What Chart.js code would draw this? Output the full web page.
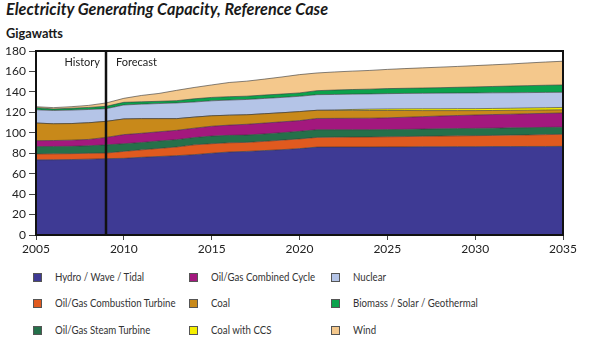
<!DOCTYPE html>
<html>
<head>
<meta charset="utf-8">
<script src="https://cdn.jsdelivr.net/npm/chart.js@4/dist/chart.umd.min.js"></script>
<style>
  body { margin: 0; background: #fff; width: 600px; height: 345px; position: relative; overflow: hidden; font-family: Lato, "Open Sans", sans-serif; }
  #title { position: absolute; left: 6px; top: -1px; font-size: 16.2px; font-weight: bold; font-style: italic; color: #1a1a1a; }
  #unit { position: absolute; left: 6px; top: 25px; font-size: 12.8px; font-weight: bold; color: #1a1a1a; }
  #wrap { position: absolute; left: 0; top: 40px; width: 600px; height: 225px; }
  .leg { position: absolute; width: 9px; height: 9px; border: 1px solid #555; box-sizing: border-box; }
  .legtxt { position: absolute; font-size: 11.5px; color: #333; white-space: nowrap; transform: scaleX(0.84); transform-origin: left center; }
</style>
</head>
<body>
<div id="title">Electricity Generating Capacity, Reference Case</div>
<div id="unit">Gigawatts</div>
<div id="wrap"><canvas id="capacityChart" width="600" height="225"></canvas></div>
<div id="legend"></div>
<script>
const years = [2005, 2006, 2007, 2008, 2009, 2010, 2011, 2012, 2013, 2014, 2015, 2016, 2017, 2018, 2019, 2020,
               2021, 2022, 2023, 2024, 2025, 2026, 2027, 2028, 2029, 2030, 2031, 2032, 2033, 2034, 2035];

const hydro = [73.5, 73.6, 73.8, 74.2, 74.7, 75.0, 76.0, 76.8, 77.6, 78.6, 80.0, 81.2, 81.8, 82.6, 83.5, 84.5,
               86.0, 86.1, 86.1, 86.1, 86.2, 86.2, 86.3, 86.3, 86.4, 86.4, 86.5, 86.5, 86.6, 86.6, 86.7];
const combustionTurbine = [5.8, 5.8, 5.8, 5.7, 5.5, 6.8, 7.3, 7.9, 8.5, 9.6, 9.3, 9.0, 8.8, 9.0, 9.3, 9.5,
               9.5, 9.6, 9.7, 9.8, 9.9, 10.1, 10.3, 10.5, 10.6, 10.8, 10.9, 11.2, 11.3, 11.6, 11.8];
const steamTurbine = [7.2, 7.2, 7.2, 7.4, 8.0, 7.5, 7.2, 7.3, 7.2, 7.1, 7.5, 7.3, 7.2, 7.3, 7.3, 7.4,
               7.5, 7.3, 7.2, 7.1, 7.0, 7.0, 7.0, 7.1, 7.1, 7.1, 7.1, 7.1, 7.1, 7.1, 7.0];
const combinedCycle = [5.8, 5.8, 6.0, 6.2, 7.3, 8.9, 9.0, 9.0, 9.1, 9.2, 9.6, 10.0, 10.5, 10.6, 10.6, 10.5,
               11.0, 11.1, 11.2, 11.3, 11.5, 11.9, 12.2, 12.5, 12.8, 13.1, 13.3, 13.4, 13.6, 13.7, 13.9];
const coal = [17.2, 16.4, 16.2, 16.3, 15.7, 15.3, 14.3, 12.8, 11.4, 10.8, 10.2, 9.7, 9.3, 9.1, 8.9, 8.8,
               8.0, 7.8, 7.7, 7.5, 7.2, 6.6, 5.9, 5.3, 4.8, 4.3, 4.0, 3.8, 3.5, 3.3, 3.1];
const coalCCS = [0, 0, 0, 0, 0, 0, 0, 0, 0, 0, 0, 0, 0, 0, 0, 0,
               0, 0.4, 0.9, 1.3, 1.5, 1.6, 1.8, 1.8, 1.9, 1.9, 2.0, 2.0, 2.2, 2.2, 2.3];
const nuclear = [13.0, 13.0, 13.2, 13.0, 12.4, 13.7, 14.2, 14.8, 15.4, 14.8, 14.7, 14.8, 15.0, 15.0, 15.0, 15.0,
               15.3, 15.2, 15.0, 14.9, 15.0, 15.1, 15.1, 15.3, 15.3, 15.4, 15.3, 15.2, 15.0, 15.0, 14.8];
const biomass = [2.1, 1.5, 1.8, 2.0, 2.3, 2.6, 2.3, 2.2, 2.2, 3.1, 3.3, 3.3, 3.2, 3.3, 3.3, 3.3,
               3.9, 4.3, 4.5, 4.7, 4.9, 5.0, 5.2, 5.3, 5.6, 5.9, 6.2, 6.5, 6.8, 7.0, 7.2];
const wind = [0.9, 1.3, 1.5, 2.0, 3.3, 3.9, 6.2, 7.7, 10.1, 11.1, 12.2, 13.9, 14.7, 15.6, 16.7, 17.9,
               17.3, 17.7, 18.0, 18.3, 18.8, 19.3, 19.7, 20.1, 20.4, 20.8, 21.2, 21.6, 22.2, 22.7, 23.2];

const seriesNames = ["Hydro / Wave / Tidal", "Oil/Gas Combustion Turbine", "Oil/Gas Steam Turbine",
                     "Oil/Gas Combined Cycle", "Coal", "Coal with CCS",
                     "Nuclear", "Biomass / Solar / Geothermal", "Wind"];
const seriesData = [hydro, combustionTurbine, steamTurbine, combinedCycle, coal, coalCCS, nuclear, biomass, wind];
const seriesColors = ["#3e3a94", "#e05a1f", "#25704a", "#a3187e", "#c8891a", "#f5ef00", "#b4c4e7", "#0ba24c", "#f4c88c"];

const yTicks = [0, 20, 40, 60, 80, 100, 120, 140, 160, 180];
const xTicks = [2005, 2010, 2015, 2020, 2025, 2030, 2035];
const forecastStart = 2009;

// legend: three columns, three rows
const legendOrder = [0, 3, 6, 1, 4, 7, 2, 5, 8];
const legendBox = document.getElementById("legend");
legendOrder.forEach((s, k) => {
    const col = k % 3, row = Math.floor(k / 3);
    const y = 277.5 + row * 26.3;
    const box = document.createElement("div");
    box.className = "leg";
    box.style.left = [33, 189, 331][col] + "px";
    box.style.top = (y - 4.5) + "px";
    box.style.background = seriesColors[s];
    legendBox.appendChild(box);
    const t = document.createElement("div");
    t.className = "legtxt";
    t.style.left = [55, 211, 353][col] + "px";
    t.style.top = (y - 7.5) + "px";
    t.textContent = seriesNames[s];
    legendBox.appendChild(t);
});

const framePlugin = {
    id: "frame",
    afterDatasetsDraw(chart) {
        const { ctx, chartArea: a, scales } = chart;
        ctx.save();
        ctx.strokeStyle = "#111";
        ctx.lineWidth = 2;
        ctx.strokeRect(a.left, a.top, a.right - a.left, a.bottom - a.top);
        const fx = Math.round(scales.x.getPixelForValue(forecastStart));
        ctx.beginPath();
        ctx.moveTo(fx, a.top);
        ctx.lineTo(fx, a.bottom);
        ctx.lineWidth = 2.5;
        ctx.stroke();
        ctx.fillStyle = "#222";
        ctx.font = "11px Lato, 'Open Sans', sans-serif";
        ctx.textBaseline = "middle";
        ctx.textAlign = "right";
        ctx.fillText("History", fx - 6, a.top + 11);
        ctx.textAlign = "left";
        ctx.fillText("Forecast", fx + 10, a.top + 11);
        ctx.restore();
    }
};

const ctx = document.getElementById("capacityChart").getContext("2d");
new Chart(ctx, {
    type: "line",
    data: {
        datasets: seriesData.map((vals, i) => ({
            label: seriesNames[i],
            data: years.map((yr, j) => ({ x: yr, y: vals[j] })),
            backgroundColor: seriesColors[i],
            borderColor: "rgba(50,50,50,0.75)",
            borderWidth: 0.8,
            pointRadius: 0,
            tension: 0,
            fill: i === 0 ? "origin" : "-1"
        }))
    },
    options: {
        responsive: false,
        animation: false,
        layout: { padding: { top: 11, right: 37, left: 0, bottom: 0 } },
        scales: {
            x: {
                type: "linear",
                min: 2005,
                max: 2035,
                afterBuildTicks: (s) => { s.ticks = xTicks.map(v => ({ value: v })); },
                afterFit: (s) => { s.height = 30; },
                ticks: { color: "#222", font: { size: 12, family: "Lato" }, padding: 2, callback: v => String(v) },
                grid: { drawOnChartArea: false, drawTicks: true, tickLength: 5, tickColor: "#444" },
                border: { display: true, color: "#111", width: 2 }
            },
            y: {
                stacked: true,
                min: 0,
                max: 180,
                afterBuildTicks: (s) => { s.ticks = yTicks.map(v => ({ value: v })); },
                afterFit: (s) => { s.width = 36; },
                ticks: { color: "#222", font: { size: 12, family: "Lato" }, padding: 3 },
                grid: { drawOnChartArea: false, drawTicks: true, tickLength: 7, tickColor: "#444" },
                border: { display: true, color: "#111", width: 2 }
            }
        },
        plugins: {
            legend: { display: false },
            tooltip: { enabled: false }
        }
    },
    plugins: [framePlugin]
});
</script>
</body>
</html>
